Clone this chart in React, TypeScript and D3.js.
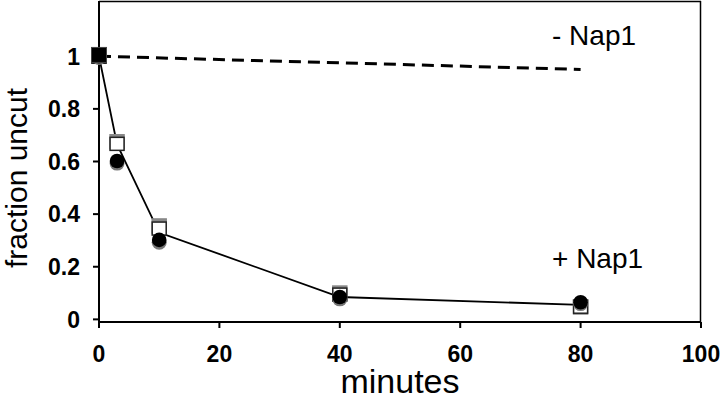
import React from "react";
import * as d3 from "d3";

const minutes = [0, 3, 10, 40, 80];
const openSquares = [1.0, 0.669, 0.347, 0.096, 0.05];
const graySquares = [1.0, 0.675, 0.355, 0.1, 0.047];
const blackCircles = [1.0, 0.602, 0.302, 0.085, 0.065];
const grayCircles = [0.995, 0.594, 0.293, 0.078, 0.06];
const fitLine = [1.0, 0.665, 0.33, 0.085, 0.055];
const noNapX = [0, 80];
const noNapY = [1.0, 0.95];
const xTicks = [0, 20, 40, 60, 80, 100];
const yTicks = [0, 0.2, 0.4, 0.6, 0.8, 1];

const W = 720;
const H = 401;

export default function App() {
  const x = d3.scaleLinear().domain([0, 100]).range([99, 701]);
  const y = d3.scaleLinear().domain([-0.01, 1.21]).range([322, 1]);
  const line = d3
    .line<[number, number]>()
    .x((d) => x(d[0]))
    .y((d) => y(d[1]));
  const fitPts: [number, number][] = minutes.map((m, i) => [m, fitLine[i]]);
  const dashPts: [number, number][] = noNapX.map((m, i) => [m, noNapY[i]]);
  const font = "Arial, 'Liberation Sans', sans-serif";
  const s = 14;
  return (
    <svg
      width={W}
      height={H}
      style={{ position: "absolute", left: 0, top: 0, background: "#fff" }}
      fontFamily={font}
    >
      {/* frame */}
      <line x1={99} x2={701} y1={1.5} y2={1.5} stroke="#000" strokeWidth={1.5} />
      <line x1={700.5} x2={700.5} y1={1} y2={322} stroke="#000" strokeWidth={1.5} />
      <line x1={99} x2={99} y1={1} y2={323} stroke="#000" strokeWidth={2} />
      <line x1={98} x2={701} y1={322} y2={322} stroke="#000" strokeWidth={2} />
      {/* y ticks */}
      {yTicks.map((t) => (
        <g key={"y" + t}>
          <line x1={93} x2={99} y1={y(t)} y2={y(t)} stroke="#000" strokeWidth={2} />
          <text
            x={80}
            y={y(t)}
            dy="0.36em"
            textAnchor="end"
            fontSize={23}
            fontWeight="bold"
          >
            {String(t)}
          </text>
        </g>
      ))}
      {/* x ticks */}
      {xTicks.map((t) => (
        <g key={"x" + t}>
          <line x1={x(t)} x2={x(t)} y1={322} y2={328} stroke="#000" strokeWidth={2} />
          <text x={x(t)} y={362} textAnchor="middle" fontSize={23} fontWeight="bold">
            {String(t)}
          </text>
        </g>
      ))}
      {/* axis titles */}
      <text x={400} y={393} textAnchor="middle" fontSize={34}>
        minutes
      </text>
      <text
        transform="translate(27,178) rotate(-90)"
        textAnchor="middle"
        fontSize={30}
      >
        fraction uncut
      </text>
      {/* dashed -Nap1 */}
      <path
        d={line(dashPts) || ""}
        fill="none"
        stroke="#000"
        strokeWidth={3}
        strokeDasharray="12,7"
      />
      {/* fit line */}
      <path d={line(fitPts) || ""} fill="none" stroke="#000" strokeWidth={1.8} />
      {/* markers */}
      {minutes.map((m, i) => (
        <rect
          key={"gs" + i}
          x={x(m) - s / 2}
          y={y(graySquares[i]) - s / 2}
          width={s}
          height={s}
          fill="#888"
          stroke="#888"
          strokeWidth={1.5}
        />
      ))}
      {minutes.map((m, i) => (
        <rect
          key={"os" + i}
          x={x(m) - s / 2}
          y={y(openSquares[i]) - s / 2 + 1}
          width={s}
          height={s - 1}
          fill="#fff"
          stroke="#222"
          strokeWidth={1.5}
        />
      ))}
      {minutes.map((m, i) => (
        <circle
          key={"gc" + i}
          cx={x(m)}
          cy={y(grayCircles[i])}
          r={7.5}
          fill="#777"
        />
      ))}
      {minutes.map((m, i) => (
        <circle
          key={"bc" + i}
          cx={x(m)}
          cy={y(blackCircles[i])}
          r={7.3}
          fill="#000"
        />
      ))}
      {/* -Nap1 start marker */}
      <rect
        x={x(0) - 7.5}
        y={y(1.005) - 7.5}
        width={15}
        height={15}
        fill="#000"
        stroke="#444"
        strokeWidth={1}
      />
      {/* labels */}
      <text x={552} y={45} fontSize={28}>
        - Nap1
      </text>
      <text x={552} y={268} fontSize={28}>
        + Nap1
      </text>
    </svg>
  );
}
